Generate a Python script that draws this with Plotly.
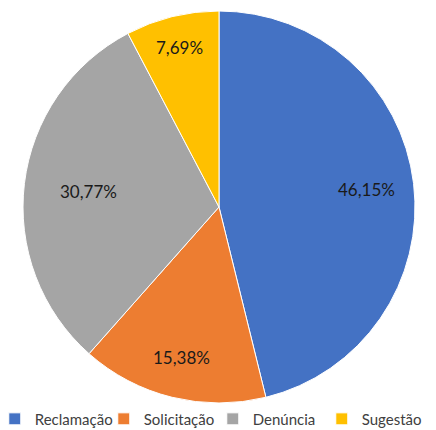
import math
import plotly.graph_objects as go

categories = ["Reclamação", "Solicitação", "Denúncia", "Sugestão"]
values = [6, 2, 4, 1]
colors = ["#4472C4", "#ED7D31", "#A5A5A5", "#FFC000"]
label_radius = [0.76, 0.79, 0.67, 0.84]  # radial position of labels (fraction of radius)

W, H = 436, 430
cx, cy, R = 219, 207, 196  # pie centre/radius in pixels

fig = go.Figure(go.Pie(
    labels=categories,
    values=values,
    sort=False,
    direction="clockwise",
    rotation=0,
    marker=dict(colors=colors, line=dict(color="white", width=1)),
    textinfo="none",
    domain=dict(x=[(cx - R) / W, (cx + R) / W], y=[(H - cy - R) / H, (H - cy + R) / H]),
    hoverinfo="label+percent",
))

total = sum(values)
cum = 0
font = "Lato, Open Sans, Liberation Sans, sans-serif"
for v, rf in zip(values, label_radius):
    mid = (cum + v / 2) / total * 2 * math.pi
    cum += v
    px = cx + rf * R * math.sin(mid)
    py = cy - rf * R * math.cos(mid)
    pct = v / total * 100
    fig.add_annotation(
        x=px / W, y=(H - py) / H, xref="paper", yref="paper",
        text=f"{pct:.2f}%".replace(".", ","), showarrow=False,
        font=dict(family=font, size=17, color="#1a1a1a"),
        xanchor="center", yanchor="middle",
    )

fig.update_layout(
    width=W, height=H,
    margin=dict(l=0, r=0, t=0, b=0, autoexpand=False),
    paper_bgcolor="white",
    showlegend=True,
    legend=dict(
        orientation="h",
        x=-0.012, xanchor="left",
        y=-0.013, yanchor="bottom",
        font=dict(family=font, size=15, color="#404040"),
        itemwidth=30,
        entrywidth=64,
        entrywidthmode="pixels",
        tracegroupgap=0,
        bgcolor="rgba(0,0,0,0)",
    ),
)

fig.write_html("out.html", config={"displayModeBar": False},
               post_script="document.body.style.margin='0';document.body.style.overflow='hidden';")
